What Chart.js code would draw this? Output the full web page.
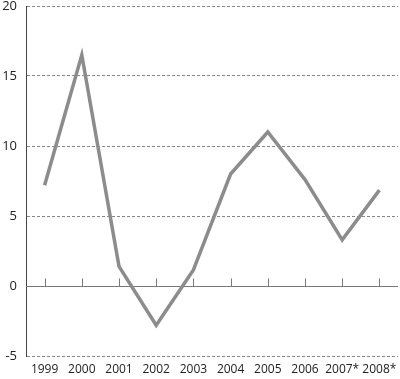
<!DOCTYPE html>
<html>
<head>
<meta charset="utf-8">
<script src="https://cdn.jsdelivr.net/npm/chart.js@4.4.0/dist/chart.umd.min.js"></script>
<style>
  html, body { margin: 0; padding: 0; background: #fff; }
  #wrap { width: 400px; height: 379px; }
</style>
</head>
<body>
<div id="wrap"><canvas id="chart"></canvas></div>
<script>
var years = ["1999", "2000", "2001", "2002", "2003", "2004", "2005", "2006", "2007*", "2008*"];
var values = [7.2, 16.5, 1.4, -2.8, 1.15, 8.0, 11.0, 7.6, 3.3, 6.85];
var yTicks = [-5, 0, 5, 10, 15, 20];

// zero line with small upward ticks at each category
var zeroLine = {
    id: "zeroLine",
    beforeDatasetsDraw: function(chart) {
        var ctx = chart.ctx;
        var x = chart.scales.x;
        var y = chart.scales.y;
        var y0 = Math.round(y.getPixelForValue(0)) + 0.5;
        ctx.save();
        ctx.strokeStyle = "#777";
        ctx.lineWidth = 1;
        ctx.beginPath();
        ctx.moveTo(chart.chartArea.left, y0);
        ctx.lineTo(chart.chartArea.right, y0);
        for (var i = 0; i < years.length; i++) {
            var px = Math.round(x.getPixelForValue(i)) + 0.5;
            ctx.moveTo(px, y0);
            ctx.lineTo(px, y0 - 8);
        }
        ctx.stroke();
        ctx.restore();
    }
};

var ctx1 = document.getElementById("chart");
var chart1 = new Chart(ctx1, {
    type: "line",
    data: {
        labels: years,
        datasets: [{
            data: values,
            borderColor: "#8c8c8c",
            borderWidth: 3.5,
            pointRadius: 0,
            tension: 0,
            fill: false
        }]
    },
    options: {
        responsive: true,
        maintainAspectRatio: false,
        animation: false,
        layout: { autoPadding: false, padding: { top: 6, right: 2, left: 0, bottom: 0 } },
        plugins: {
            legend: { display: false },
            tooltip: { enabled: false }
        },
        scales: {
            x: {
                offset: true,
                grid: { display: false, drawTicks: false },
                border: { display: false },
                afterFit: function(axis) {
                    axis.height = 23;
                    axis.paddingLeft = 0;
                    axis.paddingRight = 0;
                },
                ticks: {
                    color: "#222",
                    font: { family: "Open Sans", size: 12 },
                    padding: 6,
                    maxRotation: 0,
                    autoSkip: false
                }
            },
            y: {
                min: -5,
                max: 20,
                afterBuildTicks: function(axis) {
                    axis.ticks = yTicks.map(function(v) { return { value: v }; });
                },
                afterFit: function(axis) {
                    axis.width = 26;
                    axis.paddingTop = 0;
                    axis.paddingBottom = 0;
                },
                grid: {
                    drawTicks: false,
                    color: function(c) {
                        return c.tick && c.tick.value === 0 ? "rgba(0,0,0,0)" : "#888";
                    },
                    lineWidth: 1
                },
                border: { display: true, color: "#444", width: 1, dash: [3, 2] },
                ticks: {
                    color: "#222",
                    font: { family: "Open Sans", size: 13 },
                    padding: 9
                }
            }
        }
    },
    plugins: [zeroLine]
});
</script>
</body>
</html>
